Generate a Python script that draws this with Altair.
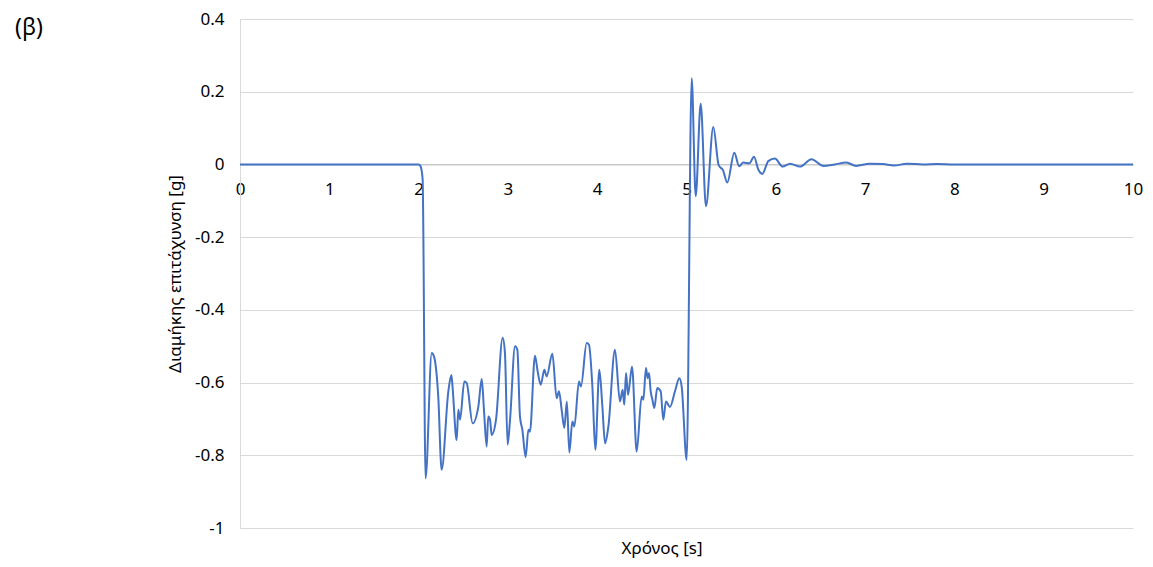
import altair as alt
import pandas as pd

# ---- data ----
time_s = [
    0.0, 2.0, 2.02, 2.045, 2.078, 2.147, 2.172, 2.22, 2.258, 2.333, 2.367, 2.38,
    2.426, 2.445, 2.464, 2.512, 2.538, 2.605, 2.669, 2.707, 2.732, 2.762, 2.78,
    2.80, 2.818, 2.867, 2.941, 2.967, 2.997, 3.024, 3.08, 3.106, 3.135, 3.162,
    3.199, 3.229, 3.247, 3.303, 3.333, 3.367, 3.408, 3.434, 3.498, 3.546, 3.572,
    3.602, 3.632, 3.66, 3.688, 3.722, 3.744, 3.796, 3.818, 3.882, 3.908, 3.946,
    3.979, 4.024, 4.058, 4.088, 4.125, 4.199, 4.255, 4.285, 4.303, 4.323, 4.345,
    4.39, 4.442, 4.498, 4.517, 4.546, 4.565, 4.58, 4.599, 4.618, 4.64, 4.672,
    4.711, 4.74, 4.77, 4.815, 4.871, 4.92, 4.946, 5.002, 5.058, 5.103, 5.159,
    5.218, 5.30, 5.36, 5.383, 5.405, 5.457, 5.535, 5.59, 5.636, 5.703, 5.756,
    5.804, 5.849, 5.916, 5.99, 6.077, 6.16, 6.27, 6.40, 6.53, 6.66, 6.79, 6.90,
    7.05, 7.2, 7.32, 7.47, 7.65, 7.8, 8.0, 8.3, 8.6, 9.0, 9.4, 9.8, 10.0,
]
accel_g = [
    0.0, 0.0, -0.004, -0.04, -0.863, -0.519, -0.528, -0.638, -0.840, -0.624, -0.579, -0.611,
    -0.758, -0.675, -0.702, -0.597, -0.601, -0.712, -0.666, -0.590, -0.675, -0.776, -0.693,
    -0.702, -0.744, -0.702, -0.477, -0.519, -0.771, -0.702, -0.500, -0.510, -0.693, -0.730,
    -0.805, -0.730, -0.735, -0.526, -0.569, -0.606, -0.565, -0.583, -0.521, -0.643, -0.624,
    -0.675, -0.725, -0.652, -0.792, -0.707, -0.721, -0.597, -0.611, -0.491, -0.496, -0.611,
    -0.785, -0.565, -0.666, -0.767, -0.721, -0.510, -0.652, -0.620, -0.661, -0.574, -0.634,
    -0.556, -0.790, -0.638, -0.647, -0.560, -0.588, -0.574, -0.624, -0.647, -0.670, -0.615,
    -0.624, -0.702, -0.652, -0.667, -0.624, -0.588, -0.611, -0.813, 0.237, -0.087, 0.167,
    -0.115, 0.103, -0.002, -0.009, -0.014, -0.050, 0.032, -0.005, 0.005, 0.003, 0.021,
    -0.014, -0.026, 0.009, 0.016, -0.006, 0.002, -0.006, 0.014, -0.004, 0.000, 0.005, -0.004,
    0.002, 0.001, -0.003, 0.002, 0.0, 0.001, 0.0, 0.0, 0.0, 0.0, 0.0, 0.0, 0.0,
]
x_ticks = [0, 1, 2, 3, 4, 5, 6, 7, 8, 9, 10]
y_ticks = [0.4, 0.2, 0, -0.2, -0.4, -0.6, -0.8, -1]
x_title = ["Χρόνος [s]"]
y_title = "Διαμήκης επιτάχυνση [g]"
panel_label = ["(β)"]

df = pd.DataFrame({"t": time_s, "a": accel_g})

W, H = 893, 509
FONT = "Noto Sans"
Y_MIN, Y_MAX = -1.0, 0.4
zero_px = (Y_MAX - 0) / (Y_MAX - Y_MIN) * H

line = alt.Chart(df).mark_line(
    color="#4472C4", strokeWidth=2, interpolate="monotone"
).encode(
    x=alt.X(
        "t:Q",
        scale=alt.Scale(domain=[0, 10], nice=False, zero=False),
        axis=alt.Axis(
            values=x_ticks, offset=-(H - zero_px), title=None, grid=False,
            domainColor="#bfbfbf", domainWidth=1, ticks=False, labelPadding=17,
            labelFontSize=17, labelFont=FONT, labelColor="#000000",
            labelFlush=False, labelExpr="toString(datum.value)",
        ),
    ),
    y=alt.Y(
        "a:Q",
        scale=alt.Scale(domain=[Y_MIN, Y_MAX], nice=False, zero=False),
        axis=alt.Axis(
            values=y_ticks, title=y_title, grid=True, gridColor="#d9d9d9",
            gridWidth=1, domainColor="#d9d9d9", ticks=False, labelPadding=16,
            labelFontSize=17, labelFont=FONT, labelColor="#000000",
            labelExpr="toString(round(datum.value*10)/10)",
            titleFont=FONT, titleFontSize=17, titleFontWeight="normal",
            titleColor="#000000", titlePadding=10,
        ),
    ),
)

xt = alt.Chart(pd.DataFrame({"label": x_title})).mark_text(
    font=FONT, fontSize=17, color="#000000", align="center", baseline="middle"
).encode(x=alt.value(422), y=alt.value(530), text="label:N")

pl = alt.Chart(pd.DataFrame({"label": panel_label})).mark_text(
    font=FONT, fontSize=23, color="#000000", align="center", baseline="middle"
).encode(x=alt.value(-211), y=alt.value(9), text="label:N")

chart = alt.layer(line, xt, pl).properties(
    width=W, height=H,
    autosize=alt.AutoSizeParams(type="none"),
    padding={"left": 232, "top": 11, "right": 12, "bottom": 31},
    background="white",
).configure_view(stroke=None)

chart.save("out.html", embed_options={"renderer": "svg", "actions": False})
